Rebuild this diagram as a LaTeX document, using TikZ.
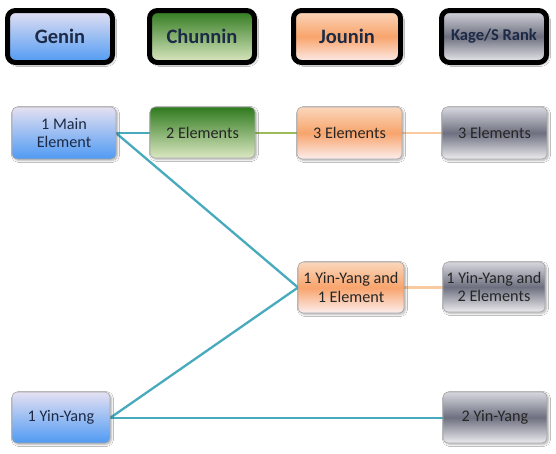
\documentclass[tikz,border=0pt]{standalone}
\usepackage{fontspec}
\setmainfont{Carlito}
\usetikzlibrary{shadows.blur}
\definecolor{teal}{HTML}{48AABD}
\definecolor{lgreen}{HTML}{9BBB59}
\definecolor{lorange}{HTML}{F9C9A0}
\definecolor{bluetop}{HTML}{E4E0F2}
\definecolor{bluebot}{HTML}{4F9AF3}
\definecolor{greentop}{HTML}{2F7A1E}
\definecolor{greenbot}{HTML}{DCE8C2}
\definecolor{orgtop}{HTML}{FAD7BC}
\definecolor{orgmid}{HTML}{F8A46C}
\definecolor{orgbot}{HTML}{FCEEEE}
\definecolor{graytop}{HTML}{D6D7DE}
\definecolor{graymid}{HTML}{6E7080}
\definecolor{graybot}{HTML}{ECECEF}
\definecolor{navytxt}{HTML}{1C2A45}
\definecolor{darktxt}{HTML}{262626}
\tikzset{
  hdr/.style={draw=black, line width=5pt, rounded corners=8pt, inner sep=0pt,
    font=\fontsize{20.5}{24}\selectfont\bfseries, text=navytxt,
    blur shadow={shadow xshift=2pt, shadow yshift=-2pt, shadow blur steps=6, shadow opacity=35}},
  box/.style={draw=black!35, line width=0.6pt, rounded corners=5pt, inner sep=0pt, align=center,
    font=\fontsize{16.2}{18.5}\selectfont, text=darktxt,
    blur shadow={shadow xshift=1.5pt, shadow yshift=-1.5pt, shadow blur steps=6, shadow opacity=30}},
  bluef/.style={top color=bluetop, bottom color=bluebot, text=navytxt},
  greenf/.style={top color=greentop, bottom color=greenbot},
  orangef/.style={top color=orgtop, bottom color=orgbot, middle color=orgmid},
  grayf/.style={top color=graytop, bottom color=graybot, middle color=graymid},
  conn/.style={line width=2.3pt},
}
\begin{document}
\begin{tikzpicture}[x=1pt,y=-1pt]
\useasboundingbox[fill=white] (0,0) rectangle (556,453);
% headers
\node[hdr,bluef,minimum width=105pt,minimum height=52pt] (hgenin) at (60,36.5) {Genin};
\node[hdr,greenf,minimum width=105pt,minimum height=52pt] (hchunnin) at (202,36.5) {Chunnin};
\node[hdr,orangef,minimum width=107pt,minimum height=52pt] (hjounin) at (347,36.5) {Jounin};
\node[hdr,grayf,minimum width=105pt,minimum height=52pt,font=\fontsize{16.5}{20}\selectfont\bfseries] (hkage) at (494,36.5) {Kage/S Rank};
% connectors (behind boxes)
\coordinate (mainE) at (116,133);
\coordinate (yyE) at (110,418);
\coordinate (yy1eW) at (298,287.5);
\draw[conn,teal] (mainE) -- (150,133);
\draw[conn,teal] (mainE) -- (yy1eW);
\draw[conn,teal] (yyE) -- (yy1eW);
\draw[conn,teal] (yyE) -- (443,418);
\draw[conn,lgreen] (255,133) -- (297,133);
\draw[conn,lorange] (402,133) -- (442,133);
\draw[conn,lorange] (404,287.5) -- (443,287.5);
% body nodes
\node[box,bluef,minimum width=104pt,minimum height=52pt] (main) at (64,133) {1 Main\\Element};
\node[box,greenf,minimum width=105pt,minimum height=51pt] (two) at (202.5,132.5) {2 Elements};
\node[box,orangef,minimum width=105pt,minimum height=52pt] (three) at (349.5,133) {3 Elements};
\node[box,grayf,minimum width=105pt,minimum height=52pt] (kthree) at (494.5,133) {3 Elements};
\node[box,orangef,minimum width=106pt,minimum height=51pt] (yy1e) at (351,287.5) {1 Yin-Yang and\\1 Element};
\node[box,grayf,minimum width=102pt,minimum height=50pt] (yy2e) at (494,287) {1 Yin-Yang and\\2 Elements};
\node[box,bluef,minimum width=98pt,minimum height=51pt] (yy) at (61,417.5) {1 Yin-Yang};
\node[box,grayf,minimum width=104pt,minimum height=51pt] (yy2) at (495,417.5) {2 Yin-Yang};
\end{tikzpicture}
\end{document}
